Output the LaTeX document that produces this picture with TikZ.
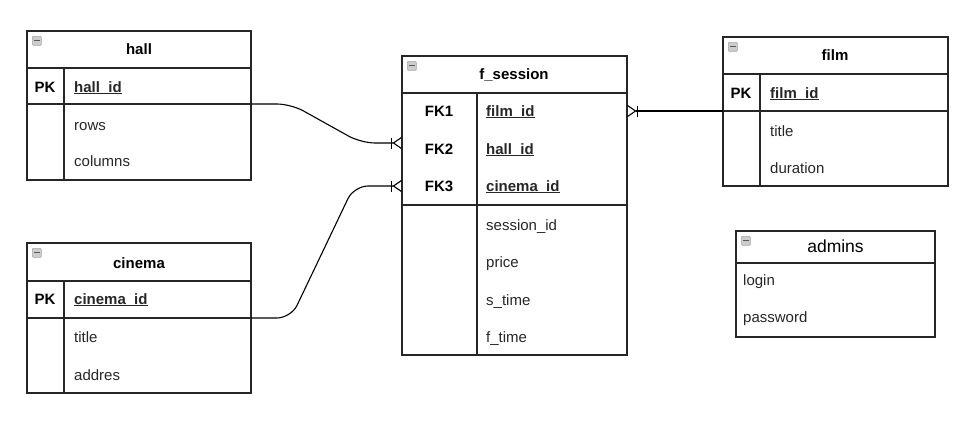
\documentclass[tikz,border=0pt]{standalone}
\usepackage{fontspec}
\setmainfont{Liberation Sans}
\usetikzlibrary{arrows.meta}
\newcommand{\chave}[1]{\underline{\smash{\textbf{#1}}}}

\begin{document}
\begin{tikzpicture}[
		x=1pt, y=-1pt,
		tabela/.style={
			draw,
			rectangle,
			anchor=north west,
			inner sep=0pt,
			outer sep=0pt,
			line width=1.1pt,
			draw=black!85
		},
		titulo/.style={
			inner sep=0pt,
			font=\fontsize{15}{18}\selectfont\bfseries,
			text height=12pt,
			text depth=2pt
		},
		campo/.style={
			anchor=west,
			inner sep=0pt,
			font=\fontsize{15}{18}\selectfont,
			text=black!85,
			text height=12pt,
			text depth=2pt
		},
		chavepk/.style={
			campo,
			anchor=center,
			text=black,
			font=\fontsize{15}{18}\selectfont\bfseries
		},
		icone/.style={
			draw=black!35,
			fill=black!20,
			rectangle,
			rounded corners=1pt,
			minimum size=9pt,
			inner sep=0pt,
			anchor=north west,
			line width=0.6pt,
			path picture={\draw[black!65, line width=1.3pt] ([xshift=1.8pt]path picture bounding box.west) -- ([xshift=-1.8pt]path picture bounding box.east);}
		},
		linha/.style={line width=1.1pt, draw=black!85},
		relacao/.style={
			line width=1.1pt,
			-{Bar[width=11pt,sep=0pt] Straight Barb[reversed,length=8pt,width=11pt,sep=0pt]}
		}
		]
		
		\useasboundingbox (0,0) rectangle (975,421);
		
		% hall
		\node[tabela, minimum width=224pt, minimum height=149pt] (hall) at (27,31) {};
		\node[tabela, minimum width=224pt, minimum height=36pt] (hallpk) at (27,68) {};
		\draw[linha] (64,68) -- (64,180);
		\node[icone] (hallico) at (32,36) {};
		\node[titulo] (halltit) at (139,49) {hall};
		\node[chavepk] (hallk) at (45,87) {PK};
		\node[campo] (hallid) at (74,87) {\chave{hall\_id}};
		\node[campo] (hallrows) at (74,125) {rows};
		\node[campo] (hallcols) at (74,161) {columns};
		
		% cinema
		\node[tabela, minimum width=224pt, minimum height=150pt] (cinema) at (27,243) {};
		\node[tabela, minimum width=224pt, minimum height=37pt] (cinemapk) at (27,281) {};
		\draw[linha] (64,281) -- (64,393);
		\node[icone] (cinemaico) at (32,248) {};
		\node[titulo] (cinematit) at (139,263) {cinema};
		\node[chavepk] (cinemak) at (45,299) {PK};
		\node[campo] (cinemaid) at (74,299) {\chave{cinema\_id}};
		\node[campo] (cinematitle) at (74,337) {title};
		\node[campo] (cinemaaddr) at (74,375) {addres};
		
		% f_session
		\node[tabela, minimum width=225pt, minimum height=299pt] (fs) at (402,56) {};
		\node[tabela, minimum width=225pt, minimum height=112pt] (fskeys) at (402,93) {};
		\draw[linha] (477,93) -- (477,355);
		\node[icone] (fsico) at (407,61) {};
		\node[titulo] (fstit) at (514,74) {f\_session};
		\node[chavepk] (fk1) at (439,111) {FK1};
		\node[chavepk] (fk2) at (439,149) {FK2};
		\node[chavepk] (fk3) at (439,186) {FK3};
		\node[campo] (fsfilm) at (486,111) {\chave{film\_id}};
		\node[campo] (fshall) at (486,149) {\chave{hall\_id}};
		\node[campo] (fscinema) at (486,186) {\chave{cinema\_id}};
		\node[campo] (fsid) at (486,225) {session\_id};
		\node[campo] (fsprice) at (486,262) {price};
		\node[campo] (fsstart) at (486,300) {s\_time};
		\node[campo] (fsend) at (486,337) {f\_time};
		
		% film
		\node[tabela, minimum width=225pt, minimum height=149pt] (film) at (723,37) {};
		\node[tabela, minimum width=225pt, minimum height=37pt] (filmpk) at (723,74) {};
		\draw[linha] (760,74) -- (760,186);
		\node[icone] (filmico) at (728,42) {};
		\node[titulo] (filmtit) at (835,55) {film};
		\node[chavepk] (filmk) at (741,93) {PK};
		\node[campo] (filmid) at (770,93) {\chave{film\_id}};
		\node[campo] (filmtitle) at (770,131) {title};
		\node[campo] (filmdur) at (770,168) {duration};
		
		% admins
		\node[tabela, minimum width=199pt, minimum height=106pt] (admins) at (736,231) {};
		\draw[linha] (736,263) -- (935,263);
		\node[icone] (adminsico) at (741,236) {};
		\node[titulo, font=\fontsize{17.5}{20}\selectfont] (adminstit) at (835.5,247) {admins};
		\node[campo] (adminslogin) at (743,280) {login};
		\node[campo] (adminspass) at (743,317) {password};
		
		%Ligacoes
		\coordinate (fshallin) at (fs.west |- 0,143);
		\draw[relacao, rounded corners=14pt] (hallpk.south east) -- (291,104) -- (361,143) -- (fshallin);
		\draw[relacao, rounded corners=14pt] (cinemapk.south east) -- (291,318) -- (354,186) -- (fs.west |- fk3);
		\draw[relacao] (filmpk.south west) -- (fs.east |- fk1);
		
	\end{tikzpicture}
\end{document}
